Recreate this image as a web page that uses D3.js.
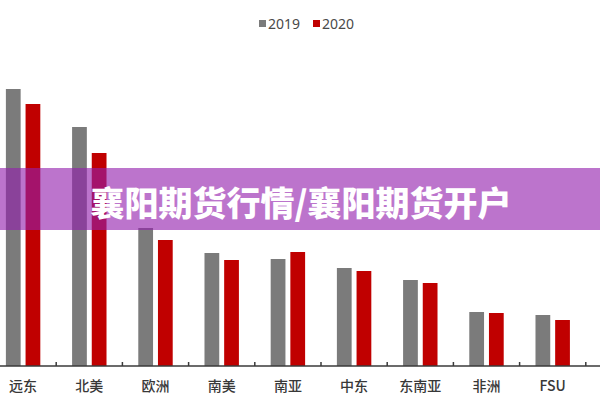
<!DOCTYPE html>
<html>
<head>
<meta charset="utf-8">
<script src="https://cdn.jsdelivr.net/npm/d3@7"></script>
<style>
  html, body { margin: 0; padding: 0; background: #fff; }
  svg { display: block; }
</style>
</head>
<body>
<script>
const width = 600;
const height = 400;

// datos
const regiones = ["远东", "北美", "欧洲", "南美", "南亚", "中东", "东南亚", "非洲", "FSU"];
const series = ["2019", "2020"];
const valores2019 = [27.7, 23.9, 13.8, 11.3, 10.7, 9.8, 8.6, 5.4, 5.1];
const valores2020 = [26.2, 21.3, 12.6, 10.6, 11.4, 9.5, 8.3, 5.3, 4.6];
const colores = ["#7b7b7b", "#c00000"];
const banner = "襄阳期货行情/襄阳期货开户";

const baseY = 366;

const svg = d3.select("body")
  .append("svg")
  .attr("width", width)
  .attr("height", height);

svg.append("rect")
  .attr("width", width)
  .attr("height", height)
  .attr("fill", "#fff");

const x = d3.scaleBand()
  .domain(regiones)
  .range([-10, 585.8])
  .paddingInner(0.48)
  .paddingOuter(0.24);

const xs = d3.scaleBand()
  .domain(series)
  .range([0, x.bandwidth()])
  .paddingInner(0.25);

const y = d3.scaleLinear()
  .domain([0, 30])
  .range([baseY, 66]);

const color = d3.scaleOrdinal().domain(series).range(colores);

const filas = regiones.map((r, i) => ({region: r, "2019": valores2019[i], "2020": valores2020[i]}));

// barras
const grupos = svg.append("g")
  .selectAll("g")
  .data(filas)
  .join("g")
  .attr("transform", d => `translate(${x(d.region)},0)`);

grupos.selectAll("rect")
  .data(d => series.map(s => ({serie: s, valor: d[s]})))
  .join("rect")
  .attr("x", d => xs(d.serie))
  .attr("y", d => y(d.valor))
  .attr("width", xs.bandwidth())
  .attr("height", d => baseY - y(d.valor))
  .attr("fill", d => color(d.serie));

// eje
svg.append("line")
  .attr("x1", 0)
  .attr("x2", width)
  .attr("y1", baseY)
  .attr("y2", baseY)
  .attr("stroke", "#3a3a3a")
  .attr("stroke-width", 1.5);

const limites = d3.range(1, regiones.length + 1).map(i => x.range()[0] + i * x.step());
svg.append("g")
  .selectAll("line")
  .data(limites)
  .join("line")
  .attr("x1", d => d)
  .attr("x2", d => d)
  .attr("y1", baseY)
  .attr("y2", baseY - 4)
  .attr("stroke", "#3a3a3a")
  .attr("stroke-width", 1.5);

svg.append("g")
  .selectAll("text")
  .data(regiones)
  .join("text")
  .attr("x", d => x(d) + x.bandwidth() / 2)
  .attr("y", 391)
  .attr("text-anchor", "middle")
  .style("font-family", "'Noto Sans CJK SC', sans-serif")
  .style("font-size", "14px")
  .style("font-weight", "500")
  .attr("fill", "#383838")
  .text(d => d);

// leyenda
const leyenda = svg.append("g")
  .attr("transform", "translate(259, 0)");

const item = leyenda.selectAll("g")
  .data(series)
  .join("g")
  .attr("transform", (d, i) => `translate(${i * 54}, 0)`);

item.append("rect")
  .attr("y", 20)
  .attr("width", 7)
  .attr("height", 7)
  .attr("fill", d => color(d));

item.append("text")
  .attr("x", 9)
  .attr("y", 23.5)
  .attr("dominant-baseline", "central")
  .style("font-family", "'Noto Sans', sans-serif")
  .style("font-size", "14px")
  .attr("fill", "#4a4a4a")
  .text(d => d);

// franja superpuesta
svg.append("rect")
  .attr("x", 0)
  .attr("y", 168)
  .attr("width", width)
  .attr("height", 62)
  .attr("fill", "rgb(147,31,172)")
  .attr("fill-opacity", 0.62);

svg.append("text")
  .attr("x", 301)
  .attr("y", 201)
  .attr("text-anchor", "middle")
  .attr("dominant-baseline", "central")
  .style("font-family", "'Noto Sans CJK SC', sans-serif")
  .style("font-size", "34px")
  .style("font-weight", "900")
  .attr("fill", "#fff")
  .text(banner);
</script>
</body>
</html>
